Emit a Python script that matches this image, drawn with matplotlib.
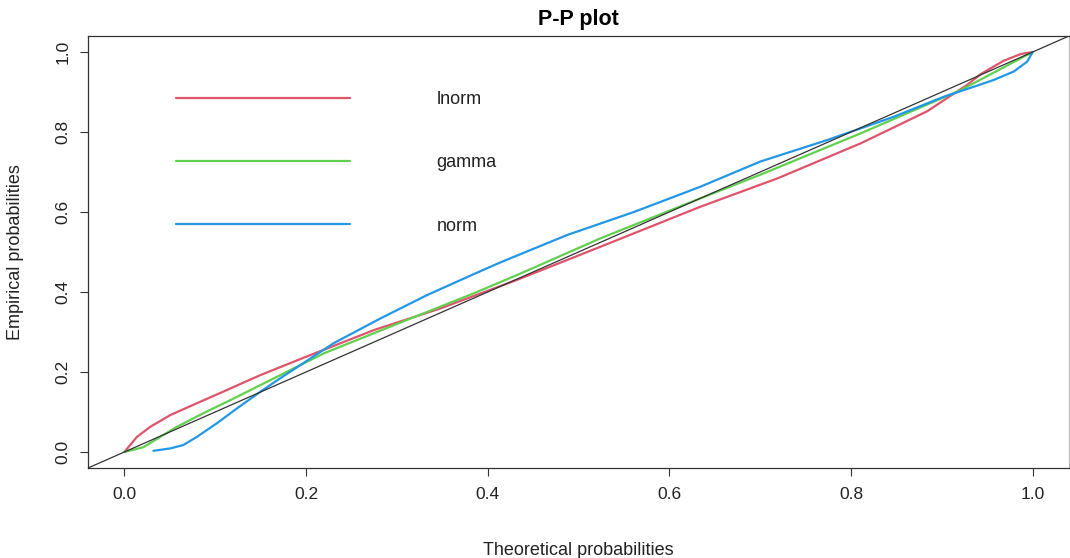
import matplotlib
matplotlib.use("Agg")
import matplotlib.pyplot as plt

# ---- data ----
lnorm_x = [0.0, 0.014, 0.0286, 0.0507, 0.080, 0.109, 0.150, 0.200, 0.275, 0.348, 0.432,
           0.524, 0.634, 0.719, 0.811, 0.884, 0.928, 0.943, 0.968, 0.987, 1.0]
lnorm_y = [0.0, 0.038, 0.063, 0.0925, 0.122, 0.151, 0.1925, 0.238, 0.305, 0.359, 0.430,
           0.513, 0.613, 0.684, 0.772, 0.852, 0.918, 0.945, 0.978, 0.995, 1.0]

gamma_x = [0.0, 0.021, 0.0396, 0.058, 0.087, 0.117, 0.150, 0.220, 0.311, 0.385, 0.432,
           0.524, 0.634, 0.700, 0.811, 0.921, 1.0]
gamma_y = [0.0, 0.012, 0.038, 0.063, 0.097, 0.130, 0.1675, 0.247, 0.330, 0.397, 0.442,
           0.534, 0.634, 0.693, 0.797, 0.905, 1.0]

norm_x = [0.032, 0.0507, 0.065, 0.080, 0.102, 0.124, 0.150, 0.172, 0.2305, 0.282, 0.333,
          0.385, 0.414, 0.4875, 0.561, 0.634, 0.700, 0.774, 0.847, 0.902, 0.935, 0.957,
          0.979, 0.994, 1.0]
norm_y = [0.003, 0.009, 0.0175, 0.038, 0.072, 0.109, 0.151, 0.185, 0.272, 0.334, 0.392,
          0.445, 0.474, 0.5425, 0.600, 0.663, 0.726, 0.780, 0.838, 0.888, 0.913, 0.930,
          0.951, 0.976, 1.0]

series_names = ["lnorm", "gamma", "norm"]
series_colors = ["#DF536B", "#61D04F", "#2297E6"]
ticks = [0.0, 0.2, 0.4, 0.6, 0.8, 1.0]
tick_labels = ["0.0", "0.2", "0.4", "0.6", "0.8", "1.0"]

plt.rcParams['font.family'] = ['Liberation Sans', 'DejaVu Sans']

fig = plt.figure(figsize=(10.70, 5.58), dpi=100)
ax = fig.add_axes([88 / 1070, 1 - 468 / 558, 981 / 1070, 432 / 558])

for xs, ys, name, col in zip([lnorm_x, gamma_x, norm_x], [lnorm_y, gamma_y, norm_y],
                             series_names, series_colors):
    ax.plot(xs, ys, color=col, lw=1.6, label=name,
            solid_capstyle='round', solid_joinstyle='round')

ax.axline((0, 0), (1, 1), color="#333333", lw=0.9)

ax.set_xlim(-0.04, 1.04)
ax.set_ylim(-0.04, 1.04)
ax.set_xticks(ticks)
ax.set_xticklabels(tick_labels)
ax.set_yticks(ticks)
ax.set_yticklabels(tick_labels, rotation=90, va='center')
ax.tick_params(axis='both', direction='out', length=5.5, width=0.8, colors='#333333',
               labelsize=12.5, labelcolor='#222222')
ax.tick_params(axis='x', pad=8)
ax.tick_params(axis='y', pad=7)
for s in ax.spines.values():
    s.set_color('#333333')
    s.set_linewidth(0.9)
ax.spines['right'].set_color('#bbbbbb')

ax.set_title("P-P plot", fontsize=15.5, fontweight='bold', pad=8)
ax.set_xlabel("Theoretical probabilities", fontsize=13, labelpad=29, color='#222222')
ax.set_ylabel("Empirical probabilities", fontsize=13, labelpad=23, color='#222222')

leg = ax.legend(loc='upper left', bbox_to_anchor=((176 - 88) / 981, (468 - 91) / 432),
                frameon=False, fontsize=13, handlelength=9.63, handletextpad=4.8,
                labelspacing=2.57, borderpad=0, borderaxespad=0)
for t in leg.get_texts():
    t.set_color('#222222')

fig.savefig("out.png", dpi=100)
